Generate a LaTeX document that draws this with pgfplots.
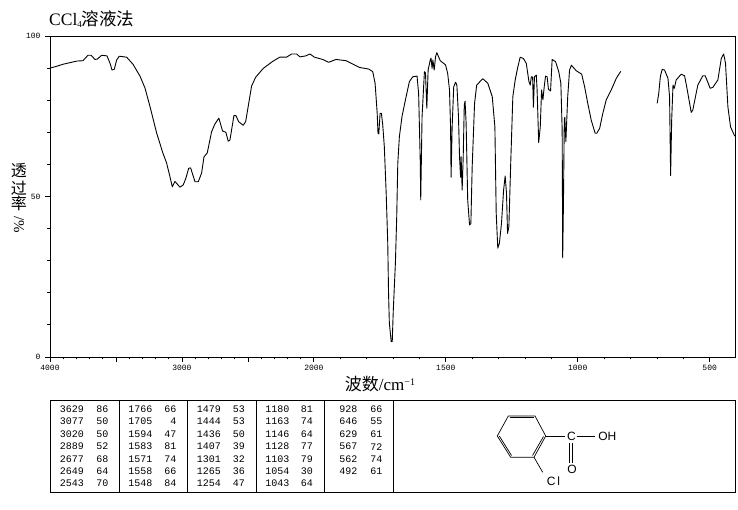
\documentclass[border=0pt]{standalone}
\usepackage{fontspec}
\setmainfont{Liberation Serif}
\newfontfamily\cjk{Noto Sans CJK SC}
\newfontfamily\mono{Liberation Mono}
\newfontfamily\lsans{Liberation Sans}
\usepackage{pgfplots}
\pgfplotsset{compat=1.18}

% one cell of the peak table: right edge x, y, text
\newcommand{\peak}[3]{%
  \node[anchor=east,inner sep=0pt,font=\mono\fontsize{10}{10}\selectfont] at (#1,#2) {#3};}
% one table row: y, then wavenumber/percent for the given column edges
\newcommand{\prow}[5]{\peak{#1}{#3}{#4}\peak{#2}{#3}{#5}}

\begin{document}
\begin{tikzpicture}
\path[use as bounding box] (-50pt,-153pt) rectangle (688pt,357pt);
\begin{axis}[
    at={(0pt,0pt)}, anchor=south west,
    scale only axis,
    width=685pt, height=321pt,
    x coord trafo/.code={\pgfmathparse{#1>2000?(4000-#1)/2:3000-#1}},
    xmin=4000, xmax=404,
    ymin=0, ymax=100,
    xtick={4000,3500,3000,2500,2000,1500,1000,500},
    xticklabels={4000,{},3000,{},2000,1500,1000,500},
    minor xtick={3900,3800,3700,3600,3400,3300,3200,3100,2900,2800,2700,2600,2400,2300,2200,2100,1900,1800,1700,1600,1400,1300,1200,1100,900,800,700,600},
    ytick={0,50,100},
    yticklabels={0,50,100},
    minor ytick={10,20,30,40,60,70,80,90},
    xtick pos=bottom, ytick pos=left,
    tick align=outside,
    major tick length=5pt, minor tick length=2.5pt,
    tick style={black, line width=0.8pt},
    axis line style={line width=0.9pt},
    ticklabel style={font=\mono\fontsize{8}{8}\selectfont},
    yticklabel style={xshift=-1pt},
]
\addplot[black, line width=0.9pt, line join=round, mark=none] table {
3998 90.0
3939 90.7
3901 91.2
3795 92.2
3750 92.3
3712 94.0
3689 94.0
3659 92.7
3642 92.8
3608 94.0
3568 93.8
3545 91.5
3530 89.4
3513 89.6
3495 92.5
3475 93.7
3419 93.4
3371 91.2
3318 87.5
3280 83.8
3242 78.0
3192 69.8
3144 63.5
3116 60.4
3091 56.2
3073 53.0
3053 54.7
3015 52.9
2990 53.6
2970 55.7
2949 58.8
2934 58.9
2901 54.6
2876 54.6
2851 57.3
2833 62.3
2808 63.6
2775 70.2
2750 72.6
2720 74.4
2692 70.4
2667 70.0
2649 67.2
2636 67.6
2606 75.2
2591 75.2
2570 73.3
2536 72.2
2517 73.3
2472 84.4
2442 87.1
2384 89.9
2308 92.2
2258 93.4
2207 93.4
2169 94.4
2131 94.4
2106 93.5
2061 93.8
2030 94.4
1998 93.4
1967 92.7
1944 91.8
1916 92.7
1878 92.3
1859 91.5
1827 90.2
1792 89.7
1777 88.9
1768 85.3
1760 75.9
1757 69.7
1754 69.5
1749 75.9
1744 75.9
1739 72.3
1733 65.5
1726 51.1
1720 35.5
1717 19.9
1714 10.6
1707 4.8
1703 4.8
1699 14.6
1691 29.3
1686 43.7
1682 60.3
1676 68.6
1666 74.9
1653 80.1
1638 85.8
1625 87.3
1609 87.5
1603 82.1
1597 61.4
1595 48.9
1590 74.9
1581 88.9
1577 88.5
1572 77.5
1567 89.4
1559 92.5
1556 93.1
1552 89.9
1549 92.5
1544 89.4
1539 93.5
1534 94.8
1521 92.3
1501 91.0
1493 88.4
1486 83.2
1482 71.7
1480 56.0
1476 71.7
1470 84.2
1463 85.6
1458 84.7
1452 74.9
1448 62.4
1444 56.0
1442 62.4
1438 52.0
1434 62.4
1430 78.5
1427 79.7
1423 72.8
1417 48.9
1410 41.1
1405 41.6
1400 59.3
1391 79.0
1383 84.7
1360 86.7
1341 85.3
1324 81.1
1314 71.7
1309 44.8
1303 33.9
1297 35.4
1289 41.6
1281 52.0
1275 56.4
1270 51.0
1266 38.5
1261 40.6
1254 60.3
1246 81.1
1237 86.3
1227 90.4
1218 93.4
1206 93.0
1195 91.5
1185 85.8
1180 84.7
1176 87.3
1171 87.2
1168 77.8
1164 87.3
1157 87.8
1154 83.2
1148 66.8
1142 71.7
1137 83.2
1132 80.1
1127 84.2
1122 87.5
1116 87.3
1111 83.4
1103 82.9
1097 92.7
1084 92.0
1072 88.9
1064 85.3
1059 70.7
1057 30.9
1054 48.9
1051 73.8
1049 74.7
1045 67.1
1038 81.1
1031 89.4
1024 90.9
1006 89.2
985 88.1
974 84.2
962 79.0
949 73.8
934 69.7
928 69.7
917 71.2
905 75.9
892 80.1
873 83.2
854 86.8
837 89.0
};
\addplot[black, line width=0.9pt, line join=round, mark=none] table {
699 79.0
693 82.1
687 87.3
680 89.6
671 89.4
658 86.8
652 81.1
648 56.5
644 73.8
639 84.7
634 83.7
627 86.3
608 88.1
595 87.6
586 83.7
570 76.2
564 76.9
545 84.7
526 87.6
517 87.6
498 83.7
488 84.0
469 86.3
456 93.0
447 94.4
440 91.5
431 78.0
421 71.7
405 68.8
};
\end{axis}

% everything below is in reference pixels, y going down
\begin{scope}[shift={(-50pt,357pt)}, x=1pt, y=-1pt]
\node[anchor=west,inner sep=0pt] at (49,19) {\fontsize{17.5}{17.5}\selectfont CCl\raisebox{-1.5pt}{\fontsize{9}{9}\selectfont 4}\cjk 溶液法};
\node[inner sep=0pt] at (380,384) {\fontsize{17}{17}\selectfont\cjk 波数\rmfamily /cm\raisebox{5pt}{\fontsize{10}{10}\selectfont −1}};
\node[inner sep=0pt,font=\cjk\fontsize{16}{16}\selectfont] at (19,171) {透};
\node[inner sep=0pt,font=\cjk\fontsize{16}{16}\selectfont] at (19,188) {过};
\node[inner sep=0pt,font=\cjk\fontsize{16}{16}\selectfont] at (19,203) {率};
\node[inner sep=0pt,rotate=-90,font=\fontsize{15}{15}\selectfont] at (19,225) {/\%};

% peak table frame
\draw[line width=0.9pt] (50.5,400.5) rectangle (735.3,492.3);
\foreach \cx in {119.3,187.5,256.5,324.5,393.3}
  \draw[line width=0.9pt] (\cx,400.5) -- (\cx,492.3);

\prow{84}{108.5}{409.3}{3629}{86}
\prow{84}{108.5}{421.7}{3077}{50}
\prow{84}{108.5}{434.3}{3020}{50}
\prow{84}{108.5}{446.7}{2889}{52}
\prow{84}{108.5}{459}{2677}{68}
\prow{84}{108.5}{471.3}{2649}{64}
\prow{84}{108.5}{483.7}{2543}{70}

\prow{152.5}{176.5}{409.3}{1766}{66}
\prow{152.5}{176.5}{421.7}{1705}{4}
\prow{152.5}{176.5}{434.3}{1594}{47}
\prow{152.5}{176.5}{446.7}{1583}{81}
\prow{152.5}{176.5}{459}{1571}{74}
\prow{152.5}{176.5}{471.3}{1558}{66}
\prow{152.5}{176.5}{483.7}{1548}{84}

\prow{221}{245}{409.3}{1479}{53}
\prow{221}{245}{421.7}{1444}{53}
\prow{221}{245}{434.3}{1436}{50}
\prow{221}{245}{446.7}{1407}{39}
\prow{221}{245}{459}{1301}{32}
\prow{221}{245}{471.3}{1265}{36}
\prow{221}{245}{483.7}{1254}{47}

\prow{289.5}{313}{409.3}{1180}{81}
\prow{289.5}{313}{421.7}{1163}{74}
\prow{289.5}{313}{434.3}{1146}{64}
\prow{289.5}{313}{446.7}{1128}{77}
\prow{289.5}{313}{459}{1103}{79}
\prow{289.5}{313}{471.3}{1054}{30}
\prow{289.5}{313}{483.7}{1043}{64}

\prow{357.5}{382.5}{409.3}{928}{66}
\prow{357.5}{382.5}{421.7}{646}{55}
\prow{357.5}{382.5}{434.3}{629}{61}
\prow{357.5}{382.5}{446.7}{567}{72}
\prow{357.5}{382.5}{459}{562}{74}
\prow{357.5}{382.5}{471.3}{492}{61}

% structure
\draw[line width=0.7pt] (508.3,416) -- (535,416) -- (545.7,436) -- (534,457.3) -- (510.7,457.3) -- (497.3,436) -- cycle;
\draw[line width=0.7pt] (509.5,417.7) -- (534,417.7);
\draw[line width=0.7pt] (543.5,436.5) -- (532.5,455.5);
\draw[line width=0.7pt] (499.3,436) -- (511.5,455.5);
\draw[line width=0.7pt] (545.7,436) -- (565,436);
\draw[line width=0.7pt] (576.7,436) -- (595,436);
\draw[line width=0.7pt] (569.4,443) -- (569.4,463);
\draw[line width=0.7pt] (572,443) -- (572,463);
\draw[line width=0.7pt] (534,457.3) -- (542.7,472.3);
\node[inner sep=0pt,font=\lsans\fontsize{12}{12}\selectfont] at (571.5,436) {C};
\node[inner sep=0pt,font=\lsans\fontsize{12}{12}\selectfont] at (607.3,436) {OH};
\node[inner sep=0pt,font=\lsans\fontsize{12}{12}\selectfont] at (572,469) {O};
\node[inner sep=0pt,font=\lsans\fontsize{12}{12}\selectfont] at (553.5,481) {C\,l};
\end{scope}
\end{tikzpicture}
\end{document}
